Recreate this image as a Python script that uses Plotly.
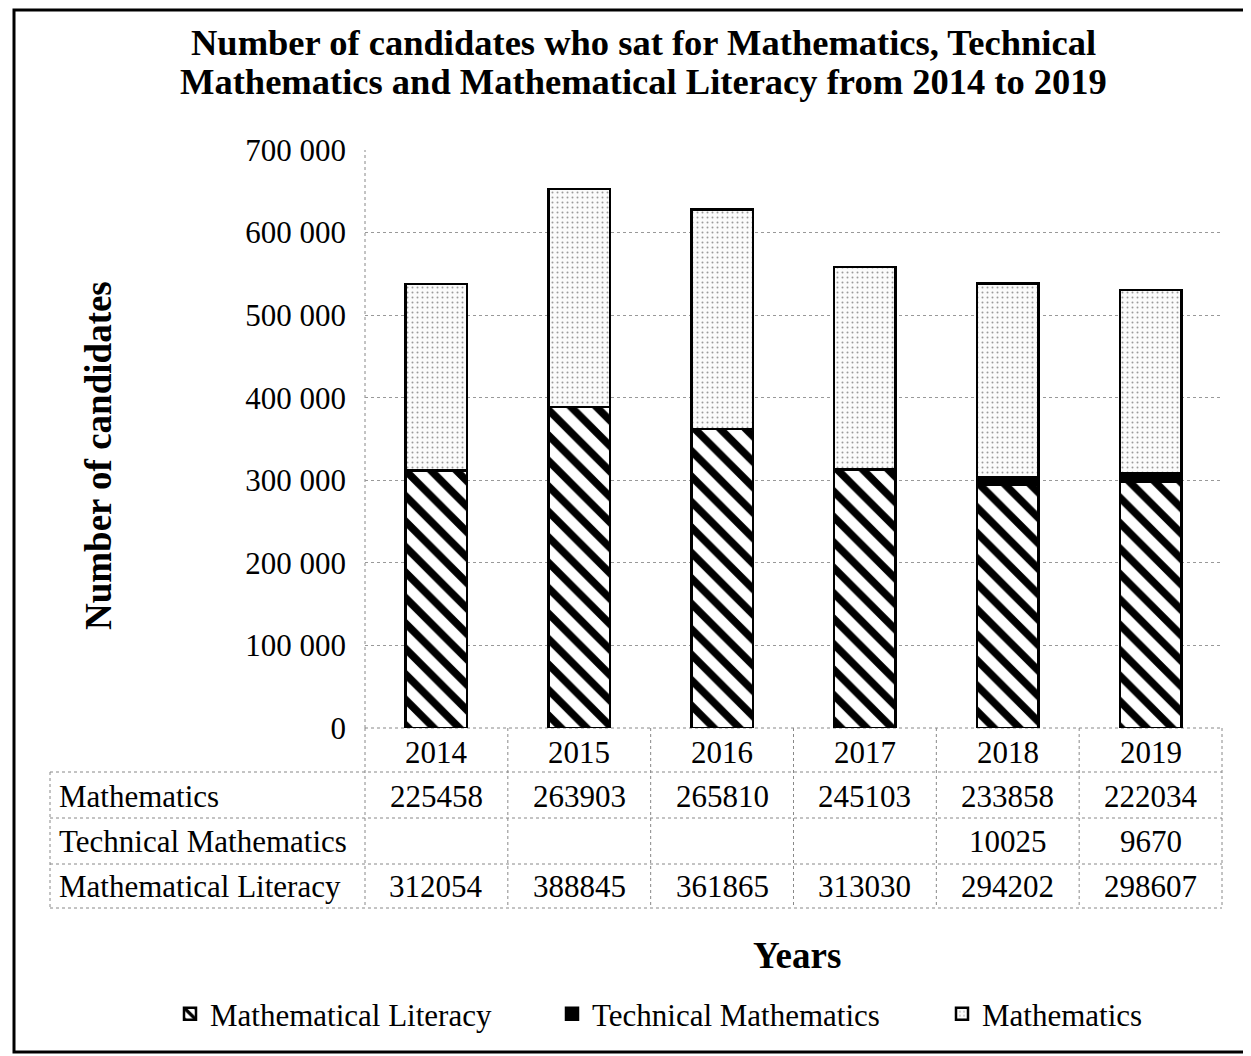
import plotly.graph_objects as go

years = ["2014", "2015", "2016", "2017", "2018", "2019"]
mathematics = [225458, 263903, 265810, 245103, 233858, 222034]
technical = [None, None, None, None, 10025, 9670]
literacy = [312054, 388845, 361865, 313030, 294202, 298607]
series_names = ["Mathematics", "Technical Mathematics", "Mathematical Literacy"]

OFF = 8  # default page body margin
W, H = 1251 - OFF, 1056 - OFF
# plot-area edges in page pixels
L, R, T, B = 365, 1222, 150, 728
PW, PH = R - L, B - T
FONT = "Liberation Serif"


def px(xp):
    return (xp - L) / PW


def py(yp):
    return (B - yp) / PH


fig = go.Figure()
fig.add_trace(go.Bar(
    x=years, y=literacy, name="Mathematical Literacy", legend="legend",
    marker=dict(color="white", line=dict(color="black", width=2.5),
                pattern=dict(shape="\\", fgcolor="black", bgcolor="white", fgopacity=1,
                             fillmode="replace", size=18, solidity=0.42)),
    width=0.43))
fig.add_trace(go.Bar(
    x=years, y=technical, name="Technical Mathematics", legend="legend2",
    marker=dict(color="black", line=dict(color="black", width=2.5)),
    width=0.43))
fig.add_trace(go.Bar(
    x=years, y=mathematics, name="Mathematics", legend="legend3",
    marker=dict(color="white", line=dict(color="black", width=2.5),
                pattern=dict(shape=".", fgcolor="#9a9a9a", bgcolor="#fbfbfb", fgopacity=1,
                             size=5, solidity=0.12)),
    width=0.43))

shapes = []
ann = []
dot = dict(color="#888888", width=1, dash="dot")

# dotted axis line and baseline
shapes.append(dict(type="line", xref="paper", yref="paper", x0=0, x1=0, y0=0, y1=1, line=dot, layer="below"))
shapes.append(dict(type="line", xref="paper", yref="paper", x0=0, x1=1, y0=0, y1=0, line=dot, layer="below"))

# table lines
for yy in [772, 818, 864, 908]:
    shapes.append(dict(type="line", xref="paper", yref="paper", x0=px(50), x1=1, y0=py(yy), y1=py(yy), line=dot))
shapes.append(dict(type="line", xref="paper", yref="paper", x0=px(50), x1=px(50), y0=py(772), y1=py(908), line=dot))
for k in range(len(years) + 1):
    xk = k / len(years)
    shapes.append(dict(type="line", xref="paper", yref="paper", x0=xk, x1=xk, y0=0, y1=py(908), line=dot))

# outer frame
shapes.append(dict(type="rect", xref="paper", yref="paper", x0=px(14), x1=px(1248), y0=py(10), y1=py(1052),
                   line=dict(color="black", width=3)))

tfont = dict(family=FONT, size=31, color="black")
rows = [mathematics, technical, literacy]
row_y = [796, 841, 887]
for name, vals, yy in zip(series_names, rows, row_y):
    ann.append(dict(x=px(57), y=py(yy), xref="paper", yref="paper", text=name, showarrow=False,
                    xanchor="left", yanchor="middle", font=tfont))
    for i, v in enumerate(vals):
        if v is not None:
            ann.append(dict(x=i, y=py(yy), xref="x", yref="paper", text=str(v), showarrow=False,
                            xanchor="center", yanchor="middle", font=tfont))
for i, yr in enumerate(years):
    ann.append(dict(x=i, y=py(752), xref="x", yref="paper", text=yr, showarrow=False,
                    xanchor="center", yanchor="middle", font=tfont))

title_lines = ["Number of candidates who sat for Mathematics, Technical",
               "Mathematics and Mathematical Literacy from 2014 to 2019"]
for line, yy in zip(title_lines, [42, 81]):
    ann.append(dict(x=px(643), y=py(yy), xref="paper", yref="paper", showarrow=False,
                    text="<b>" + line + "</b>", xanchor="center", yanchor="middle",
                    font=dict(family=FONT, size=36.5, color="black")))
ann.append(dict(x=px(98), y=py(456), xref="paper", yref="paper", showarrow=False, textangle=-90,
                text="<b>Number of candidates</b>", xanchor="center", yanchor="middle",
                font=dict(family=FONT, size=37, color="black")))
ann.append(dict(x=px(797), y=py(955), xref="paper", yref="paper", showarrow=False,
                text="<b>Years</b>", xanchor="center", yanchor="middle",
                font=dict(family=FONT, size=37, color="black")))

lfont = dict(family=FONT, size=31, color="black")
leg_common = dict(orientation="h", yanchor="middle", xanchor="left", y=py(1014), font=lfont,
                  bgcolor="rgba(0,0,0,0)", itemwidth=30)

fig.update_layout(
    width=W, height=H,
    margin=dict(l=L - OFF, r=W - (R - OFF), t=T - OFF, b=H - (B - OFF), autoexpand=False),
    paper_bgcolor="white", plot_bgcolor="white",
    barmode="stack",
    separators=". ",
    font=dict(family=FONT, size=31, color="black"),
    showlegend=True,
    legend=dict(x=px(170), **leg_common),
    legend2=dict(x=px(552), **leg_common),
    legend3=dict(x=px(942), **leg_common),
    shapes=shapes, annotations=ann,
)
fig.update_xaxes(type="category", range=[-0.5, 5.5], showticklabels=False, showgrid=False,
                 zeroline=False, showline=False, categoryorder="array", categoryarray=years)
fig.update_yaxes(range=[0, 700000], dtick=100000, tickformat=",d", showgrid=True,
                 gridcolor="#999999", griddash="dot", gridwidth=1, zeroline=False, showline=False,
                 ticklabelstandoff=18, tickfont=dict(family=FONT, size=31, color="black"))

fig.write_html("out.html")
